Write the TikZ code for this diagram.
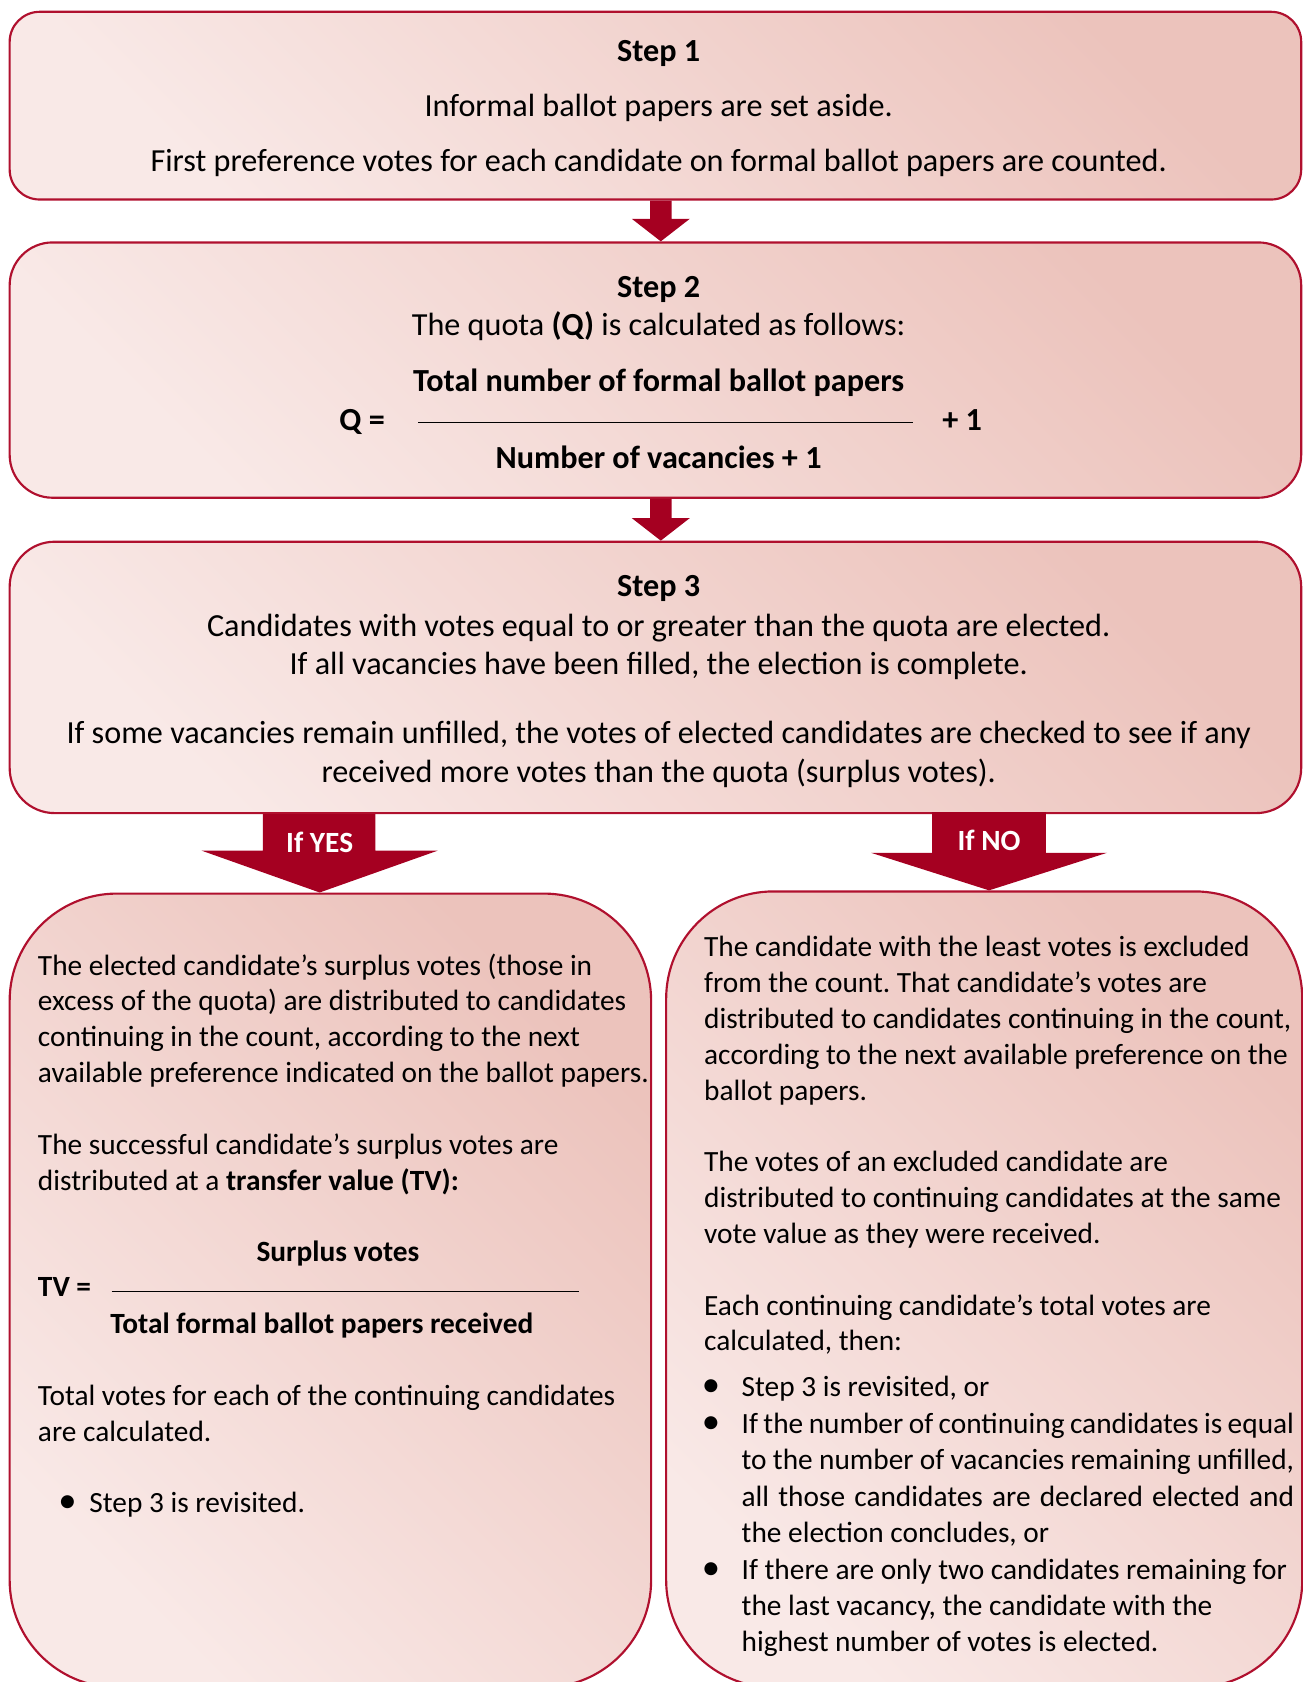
\documentclass[tikz,border=0pt]{standalone}
\usepackage{fontspec}
\setmainfont{Carlito}
\usetikzlibrary{fit,calc}
\definecolor{boxred}{RGB}{176,16,46}
\definecolor{arrowred}{RGB}{165,0,33}
\definecolor{pinkdark}{RGB}{236,195,188}
\definecolor{pinklight}{RGB}{249,233,231}
\newcommand\bodytext{\fontsize{13.68}{16.7}\selectfont}
\newcommand\toptext{\fontsize{15}{18}\selectfont}
\newcommand\blt{\leavevmode\llap{\scalebox{1.25}{\textbullet}\hspace{10pt}}}
\frenchspacing
\begin{document}
\begin{tikzpicture}[x=0.5pt,y=-0.5pt,
    stepbox/.style={draw=boxred,line width=1pt,inner sep=0pt,
        top color=pinkdark,bottom color=pinklight,shading angle=-45},
    txt/.style={anchor=base,inner sep=0pt,font=\bodytext},
    bold/.style={txt,font=\bodytext\bfseries},
    toptxt/.style={txt,font=\toptext},
    topbold/.style={txt,font=\toptext\bfseries}]
    \useasboundingbox (0,0) rectangle (1214,1568);
    \node[stepbox,rounded corners=14pt,fit={(9,11) (1213,186)}] (s1) {};
    \node[stepbox,rounded corners=20pt,fit={(9,226) (1213,464)}] (s2) {};
    \node[stepbox,rounded corners=21pt,fit={(9,505) (1213,758)}] (s3) {};
    \node[stepbox,rounded corners=50pt,fit={(9,833) (607,1573)}] (yesbox) {};
    \node[stepbox,rounded corners=50pt,fit={(621,831) (1214,1573)}] (nobox) {};
    \coordinate (mid) at (616,0);
    \coordinate (yes) at (298,0);
    \coordinate (no) at (922,0);
    \coordinate (a1) at (mid |- s1.south);
    \coordinate (a2) at (mid |- s2.south);
    \coordinate (ay) at (yes |- s3.south);
    \coordinate (an) at (no |- s3.south);
    \fill[arrowred] ($(a1)+(-10,0)$) -- ++(20,0) -- ++(0,17) -- ++(17,0)
        -- (mid |- s2.north) -- ($(a1)+(-27,17)$) -- ++(17,0) -- cycle;
    \fill[arrowred] ($(a2)+(-10,0)$) -- ++(20,0) -- ++(0,18) -- ++(17,0)
        -- (mid |- s3.north) -- ($(a2)+(-27,18)$) -- ++(17,0) -- cycle;
    \fill[arrowred] ($(ay)+(-53,0)$) -- ++(105,0) -- ++(0,34) -- ++(58,0)
        -- (yes |- yesbox.north) -- ($(ay)+(-110,34)$) -- ++(57,0) -- cycle;
    \fill[arrowred] ($(an)+(-53,-2)$) -- ++(106,0) -- ++(0,38) -- ++(57,0)
        -- (no |- nobox.north) -- ($(an)+(-110,36)$) -- ++(57,0) -- cycle;
    \node[bold,text=white] (yeslabel) at (298,795) {If YES};
    \node[bold,text=white] (nolabel) at (922,793) {If NO};

    \node[topbold] at (614,57) {Step 1};
    \node[toptxt] at (614,109) {Informal ballot papers are set aside.};
    \node[toptxt] at (614,160) {First preference votes for each candidate on formal ballot papers are counted.};

    \node[topbold] at (614,277) {Step 2};
    \node[toptxt] at (614,313) {The quota \textbf{(Q)} is calculated as follows:};
    \node[topbold] at (614,365) {Total number of formal ballot papers};
    \node[topbold,anchor=base west] at (316,401) {Q =};
    \draw[line width=0.6pt] (390,394) -- (851,394);
    \node[topbold,anchor=base west] at (878,401) {+ 1};
    \node[topbold] at (614,437) {Number of vacancies + 1};

    \node[topbold] at (614,556) {Step 3};
    \node[toptxt] at (614,593) {Candidates with votes equal to or greater than the quota are elected.};
    \node[toptxt] at (614,629) {If all vacancies have been filled, the election is complete.};
    \node[toptxt] at (614,693) {If some vacancies remain unfilled, the votes of elected candidates are checked to see if any};
    \node[toptxt] at (614,729) {received more votes than the quota (surplus votes).};

    \node[txt,anchor=base west] at (35,909) {\parbox[t]{300pt}{\raggedright
        The elected candidate’s surplus votes (those in\\
        excess of the quota) are distributed to candidates\\
        continuing in the count, according to the next\\
        available preference indicated on the ballot papers.\\[16.7pt]
        The successful candidate’s surplus votes are\\
        distributed at a \textbf{transfer value (TV):}}};
    \node[bold] at (315,1176) {Surplus votes};
    \node[bold,anchor=base west] at (35,1209) {TV =};
    \draw[line width=0.6pt] (104,1204) -- (540,1204);
    \node[bold] at (300,1243) {Total formal ballot papers received};
    \node[txt,anchor=base west] at (35,1310) {\parbox[t]{300pt}{\raggedright
        Total votes for each of the continuing candidates\\
        are calculated.}};
    \node[txt,anchor=base west] at (83,1410) {\llap{\scalebox{1.25}{\textbullet}\hspace{6pt}}Step 3 is revisited.};

    \node[txt,anchor=base west] at (656,892) {\parbox[t]{290pt}{\raggedright
        The candidate with the least votes is excluded\\
        from the count. That candidate’s votes are\\
        distributed to candidates continuing in the count,\\
        according to the next available preference on the\\
        ballot papers.\\[16.7pt]
        The votes of an excluded candidate are\\
        distributed to continuing candidates at the same\\
        vote value as they were received.\\[16.7pt]
        Each continuing candidate’s total votes are\\
        calculated, then:}};
    \node[txt,anchor=base west] at (691,1302) {\parbox[t]{257.5pt}{\fontsize{13.68}{17}\selectfont\raggedright
        \blt Step 3 is revisited, or\\
        \blt\makebox[257.5pt][s]{If the number of continuing candidates is equal}\\
        \makebox[257.5pt][s]{to the number of vacancies remaining unfilled,}\\
        \makebox[257.5pt][s]{all those candidates are declared elected and}\\
        the election concludes, or\\
        \blt If there are only two candidates remaining for\\
        the last vacancy, the candidate with the\\
        highest number of votes is elected.}};
\end{tikzpicture}
\end{document}
